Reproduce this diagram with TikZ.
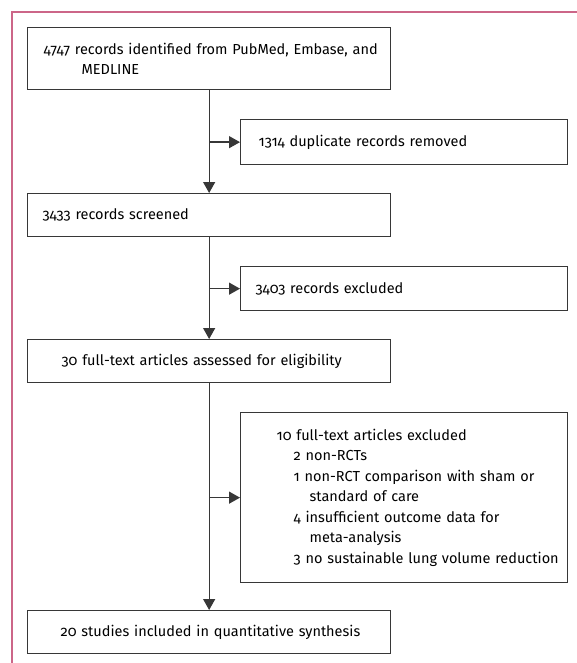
\documentclass[tikz,border=0pt]{standalone}
\usepackage{fontspec}
\setmainfont[Numbers=OldStyle]{Fira Sans}
\usepackage{tikz}
\usetikzlibrary{arrows.meta}
\definecolor{framepink}{RGB}{204,102,136}
\definecolor{boxgray}{RGB}{55,55,55}

\begin{document}
\begin{tikzpicture}[
  x=1pt, y=-1pt,
  every node/.style={rectangle, draw=boxgray, line width=1.3pt, anchor=north west, align=left, inner sep=0pt, font=\fontsize{14.5}{20.5}\selectfont},
  mainbox/.style={minimum width=363pt},
  sidebox/.style={minimum width=327pt},
  flow/.style={draw=boxgray, line width=1.3pt, -{Triangle[length=11pt, width=12pt]}},
]
  \useasboundingbox (0,0) rectangle (577,663);
  \draw[framepink, line width=1.5pt] (12,663) -- (12,12) -- (577,12);

  \node[mainbox, minimum height=62pt, text width=331pt] (identified) at (27,27)
    {\mbox{4747 records identified from PubMed, Embase, and}\\\hspace*{38pt}MEDLINE};
  \node[sidebox, minimum height=45pt, text width=291pt] (duplicates) at (240,119)
    {1314 duplicate records removed};
  \node[mainbox, minimum height=43pt, text width=333pt] (screened) at (27,193)
    {3433 records screened};
  \node[sidebox, minimum height=44pt, text width=297pt] (excluded) at (240,266)
    {3403 records excluded};
  \node[mainbox, minimum height=43pt, text width=295pt] (assessed) at (27,339)
    {\mbox{30 full-text articles assessed for eligibility}};
  \node[sidebox, minimum height=170pt, text width=255pt] (fulltext) at (240,412)
    {10 full-text articles excluded\\
     \hspace*{17pt}2 non-RCTs\\
     \hspace*{17pt}\mbox{1 non-RCT comparison with sham or}\\
     \hspace*{33pt}standard of care\\
     \hspace*{17pt}4 insufficient outcome data for\\
     \hspace*{33pt}meta-analysis\\
     \hspace*{17pt}\mbox{3 no sustainable lung volume reduction}};
  \node[mainbox, minimum height=43pt, text width=297pt] (included) at (27,610)
    {\mbox{20 studies included in quantitative synthesis}};

  \draw[flow] (identified) -- (screened);
  \draw[flow] (identified.south |- duplicates.west) -- (duplicates.west);
  \draw[flow] (screened) -- (assessed);
  \draw[flow] (screened.south |- excluded.west) -- (excluded.west);
  \draw[flow] (assessed) -- (included);
  \draw[flow] (assessed.south |- fulltext.west) -- (fulltext.west);
\end{tikzpicture}
\end{document}
